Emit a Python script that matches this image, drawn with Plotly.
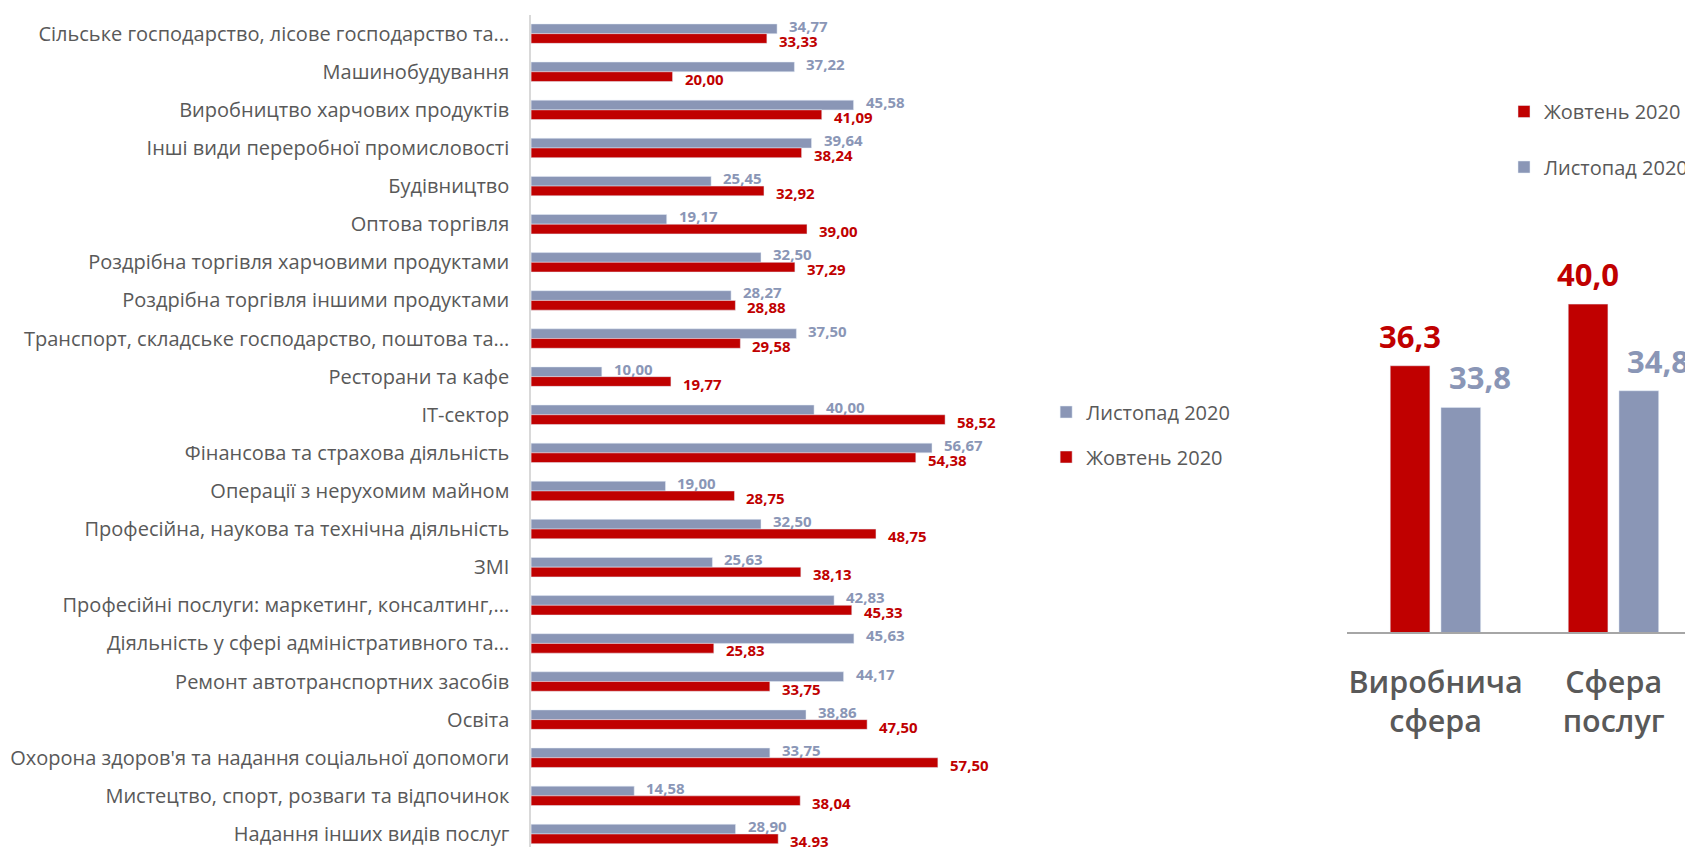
import plotly.graph_objects as go

# Left chart: sectors, top to bottom
sectors = [
    "Сільське господарство, лісове господарство та...",
    "Машинобудування",
    "Виробництво харчових продуктів",
    "Інші види переробної промисловості",
    "Будівництво",
    "Оптова торгівля",
    "Роздрібна торгівля харчовими продуктами",
    "Роздрібна торгівля іншими продуктами",
    "Транспорт, складське господарство, поштова та...",
    "Ресторани та кафе",
    "IT-сектор",
    "Фінансова та страхова діяльність",
    "Операції з нерухомим майном",
    "Професійна, наукова та технічна діяльність",
    "ЗМІ",
    "Професійні послуги: маркетинг, консалтинг,...",
    "Діяльність у сфері адміністративного та...",
    "Ремонт автотранспортних засобів",
    "Освіта",
    "Охорона здоров'я та надання соціальної допомоги",
    "Мистецтво, спорт, розваги та відпочинок",
    "Надання інших видів послуг",
]
november = [34.77, 37.22, 45.58, 39.64, 25.45, 19.17, 32.50, 28.27, 37.50, 10.00, 40.00,
            56.67, 19.00, 32.50, 25.63, 42.83, 45.63, 44.17, 38.86, 33.75, 14.58, 28.90]
october = [33.33, 20.00, 41.09, 38.24, 32.92, 39.00, 37.29, 28.88, 29.58, 19.77, 58.52,
           54.38, 28.75, 48.75, 38.13, 45.33, 25.83, 33.75, 47.50, 57.50, 38.04, 34.93]

# Right chart: summary by sphere
spheres = ["Виробнича<br>сфера", "Сфера<br>послуг"]
october_sphere = [36.3, 40.0]
november_sphere = [33.8, 34.8]

RED = "#C00000"
GREY = "#8A96B6"
TEXT = "#595959"
FONT = "Open Sans, sans-serif"

# The page body keeps its default 8px margin, so the figure is 8px smaller
PAGE_MARGIN = 8
W, H = 1693 - PAGE_MARGIN, 847 - PAGE_MARGIN


def px(x: float) -> float:
    """Page x in pixels -> paper fraction"""
    return (x - PAGE_MARGIN) / W


def py(y: float) -> float:
    """Page y in pixels (from the top) -> paper fraction"""
    return 1 - (y - PAGE_MARGIN) / H


def fmt(value: float, digits: int) -> str:
    """Number with a decimal comma, as in the source"""
    return f"{value:.{digits}f}".replace(".", ",")


def build() -> go.Figure:
    fig = go.Figure()

    # Left chart: horizontal pairs of bars
    fig.add_trace(go.Bar(y=sectors, x=november, orientation='h', name='Листопад 2020',
                         marker_color=GREY, width=0.255, offset=-0.255,
                         xaxis='x', yaxis='y', legend='legend', legendgroup='n1'))
    fig.add_trace(go.Bar(y=sectors, x=october, orientation='h', name='Жовтень 2020',
                         marker_color=RED, width=0.255, offset=0,
                         xaxis='x', yaxis='y', legend='legend', legendgroup='o1'))

    # Right chart: columns
    fig.add_trace(go.Bar(x=spheres, y=october_sphere, name='Жовтень 2020',
                         marker_color=RED, width=0.223, offset=-0.255,
                         xaxis='x2', yaxis='y2', legend='legend2', legendgroup='o2'))
    fig.add_trace(go.Bar(x=spheres, y=november_sphere, name='Листопад 2020',
                         marker_color=GREY, width=0.223, offset=0.03,
                         xaxis='x2', yaxis='y2', legend='legend2', legendgroup='n2'))

    # Value labels
    notes = []
    for name, a, b in zip(sectors, november, october):
        notes.append(dict(x=a, y=name, xref='x', yref='y', text=fmt(a, 2), showarrow=False,
                          xanchor='left', xshift=10, yshift=8,
                          font=dict(family=FONT, size=15, color=GREY, weight='bold')))
        notes.append(dict(x=b, y=name, xref='x', yref='y', text=fmt(b, 2), showarrow=False,
                          xanchor='left', xshift=10, yshift=-7,
                          font=dict(family=FONT, size=15, color=RED, weight='bold')))
    for name, a, b in zip(spheres, october_sphere, november_sphere):
        notes.append(dict(x=name, y=a, xref='x2', yref='y2', text=fmt(a, 1), showarrow=False,
                          xshift=-26, yshift=30,
                          font=dict(family=FONT, size=31, color=RED, weight='bold')))
        notes.append(dict(x=name, y=b, xref='x2', yref='y2', text=fmt(b, 1), showarrow=False,
                          xshift=44, yshift=30,
                          font=dict(family=FONT, size=31, color=GREY, weight='bold')))

    fig.update_layout(
        width=W, height=H,
        margin=dict(l=0, r=0, t=0, b=0),
        paper_bgcolor='white', plot_bgcolor='white',
        barmode='overlay',
        font=dict(family=FONT, color=TEXT),
        annotations=notes,
        xaxis=dict(domain=[px(532), px(1000)], range=[0, 66.03], visible=False),
        yaxis=dict(domain=[0, py(14.6)], range=[21.342, -0.5], type='category',
                   showline=True, linecolor='#D9D9D9', linewidth=1.5, showgrid=False,
                   ticks='', ticklabelstandoff=16, automargin=False,
                   tickfont=dict(family=FONT, size=20, color=TEXT)),
        xaxis2=dict(domain=[px(1349), 1], range=[-0.5, 1.429], anchor='y2', type='category',
                    showline=True, linecolor='#A6A6A6', linewidth=1.5, showgrid=False,
                    ticks='', ticklabelstandoff=22, automargin=False,
                    tickfont=dict(family=FONT, size=30.5, color=TEXT, weight=600)),
        yaxis2=dict(domain=[py(632.3), py(200)], range=[20.3, 46.25],
                    anchor='x2', visible=False),
        legend=dict(x=px(1048), y=py(392.5), xanchor='left', yanchor='top',
                    traceorder='grouped', tracegroupgap=16, bgcolor='rgba(0,0,0,0)',
                    font=dict(family=FONT, size=20, color=TEXT)),
        legend2=dict(x=px(1507), y=py(92), xanchor='left', yanchor='top',
                     traceorder='grouped', tracegroupgap=26.5, bgcolor='rgba(0,0,0,0)',
                     font=dict(family=FONT, size=20, color=TEXT)),
    )
    return fig


fig = build()
fig.write_html("out.html")
